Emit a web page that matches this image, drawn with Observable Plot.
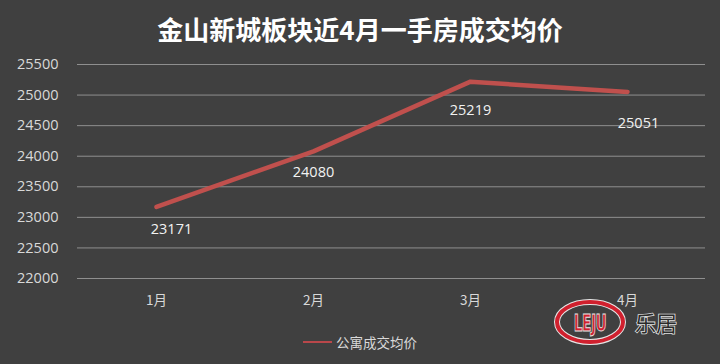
<!DOCTYPE html>
<html>
<head>
<meta charset="utf-8">
<script src="https://cdn.jsdelivr.net/npm/d3@7"></script>
<script src="https://cdn.jsdelivr.net/npm/@observablehq/plot@0.6"></script>
<style>
  html, body { margin: 0; padding: 0; background: #404040; }
  #wrap { position: relative; width: 720px; height: 364px; overflow: hidden; background: #404040; }
  #title { position: absolute; left: 0; top: 11px; width: 720px; text-align: center;
    font-family: "Noto Sans CJK SC", sans-serif; font-weight: bold; font-size: 26px; color: #ffffff; line-height: 36px; }
  #legend { position: absolute; left: 303px; top: 333px; height: 18px; display: flex; align-items: center;
    font-family: "Noto Sans CJK SC", sans-serif; font-size: 13.5px; color: #d9d9d9; }
  #legend .sw { width: 29px; height: 2.5px; background: #b9474a; margin-right: 4px; }
  #logo { position: absolute; left: 550px; top: 296px; }
  #chart svg { display: block; }
</style>
</head>
<body>
<div id="wrap">
  <div id="chart"></div>
  <div id="title">金山新城板块近4月一手房成交均价</div>
  <div id="legend"><span class="sw"></span><span>公寓成交均价</span></div>
  <svg id="logo" width="140" height="56" viewBox="0 0 140 56">
    <ellipse cx="40" cy="26" rx="33" ry="20" fill="none" stroke="#e6e6e6" stroke-width="6"/>
    <ellipse cx="40" cy="26" rx="33" ry="20" fill="none" stroke="#d0202e" stroke-width="4"/>
    <text x="0" y="0" transform="translate(40,35) scale(0.8,1.25)" text-anchor="middle" font-family="DejaVu Sans Condensed, sans-serif" font-weight="bold" font-size="19" fill="#d0202e" stroke="#e6e6e6" stroke-width="0.7" letter-spacing="-0.5">LEJU</text>
    <text x="85" y="35" font-family="Noto Sans CJK SC, sans-serif" font-size="21" fill="#2a2a2a" stroke="#e0e0e0" stroke-width="1.6" paint-order="stroke">乐居</text>
  </svg>
</div>
<script>
const months = ["1月", "2月", "3月", "4月"];
const prices = [23171, 24080, 25219, 25051];
const yTicks = [22000, 22500, 23000, 23500, 24000, 24500, 25000, 25500];
const seriesName = "公寓成交均价";

const data = months.map((m, i) => ({ month: m, price: prices[i] }));
// label nudges (style only)
const labelDx = [15, 0, 0, 11];
const labelDy = [22, 21, 29, 31];

const chart = Plot.plot({
  width: 720,
  height: 364,
  marginLeft: 77,
  marginRight: 15,
  marginTop: 64,
  marginBottom: 86,
  style: { background: "transparent", color: "#d9d9d9", fontFamily: "Open Sans, sans-serif" },
  x: { type: "point", domain: months, padding: 0.5, label: null },
  y: { domain: [22000, 25500], label: null },
  marks: [
    Plot.ruleY(yTicks, { stroke: "#8f8f8f", strokeWidth: 1 }),
    Plot.axisY({ ticks: yTicks, tickSize: 0, tickPadding: 19, tickFormat: d => String(d),
      fontSize: 14.5, fill: "#d9d9d9", label: null }),
    Plot.axisX({ tickSize: 0, tickPadding: 17, fontSize: 13.5, fill: "#d9d9d9",
      fontFamily: "Noto Sans CJK SC, sans-serif", label: null }),
    Plot.line(data, { x: "month", y: "price", stroke: "#c0504d", strokeWidth: 4.5,
      strokeLinecap: "round", strokeLinejoin: "round" }),
    ...data.map((d, i) => Plot.text([d], { x: "month", y: "price", text: d => String(d.price),
      dx: labelDx[i], dy: labelDy[i], fill: "#f2f2f2", fontSize: 14.5 }))
  ]
});
document.getElementById("chart").appendChild(chart);
</script>
</body>
</html>
